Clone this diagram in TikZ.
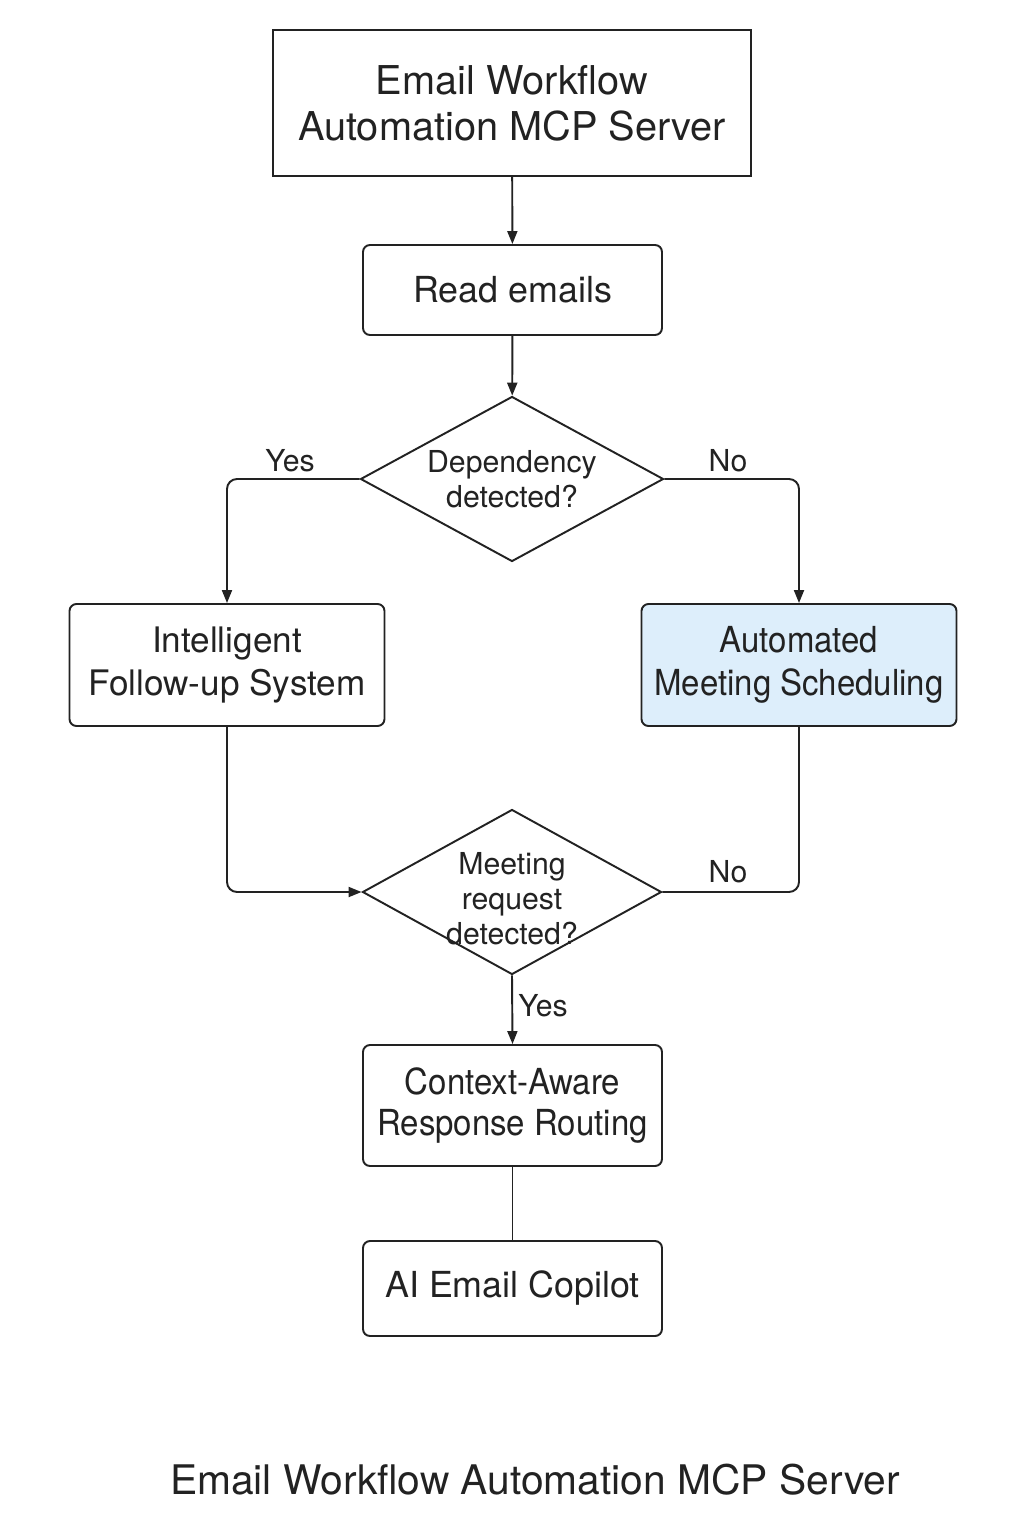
\documentclass[tikz,border=0pt]{standalone}
\usepackage{fontspec}
\setmainfont{TeX Gyre Heros}
\newfontfamily\narrowfont[FakeStretch=0.92]{TeX Gyre Heros}
\usetikzlibrary{shapes.geometric,arrows.meta}
\definecolor{schedblue}{HTML}{DDEEFB}
\definecolor{inkgray}{HTML}{222222}

\begin{document}
\begin{tikzpicture}
	\tikzset{box/.style = {shape=rectangle,draw=inkgray,line width=0.55pt,rounded corners=0.7mm,align=center,inner sep=0pt,text=inkgray}}
	\tikzset{decision/.style = {shape=diamond,draw=inkgray,line width=0.55pt,inner sep=0pt}}
	\tikzset{edge/.style = {draw=inkgray,line width=0.55pt,rounded corners=1mm,-{Triangle[length=1.3mm,width=1mm]}}}
	\tikzset{tag/.style = {font=\fontsize{8.6}{10}\selectfont,text=inkgray}}

	\fill[white] (0,0) rectangle (10.24,-15.36);
	\useasboundingbox (0,0) rectangle (10.24,-15.36);

	\node[box,sharp corners,minimum width=4.78cm,minimum height=1.46cm,font=\fontsize{11.3}{13}\selectfont] (server) at (5.12,-1.03) {Email Workflow\\Automation MCP Server};
	\node[box,minimum width=2.99cm,minimum height=0.90cm,font=\fontsize{10.2}{12}\selectfont] (read) at (5.125,-2.90) {Read emails};

	\node[decision,minimum width=3.03cm,minimum height=1.65cm,label={[tag,align=center]center:Dependency\\detected?}] (dep) at (5.12,-4.79) {};

	\node[box,minimum width=3.15cm,minimum height=1.22cm,font=\fontsize{10}{12.2}\selectfont] (follow) at (2.27,-6.65) {Intelligent\\Follow-up System};
	\node[box,fill=schedblue,minimum width=3.15cm,minimum height=1.22cm,font=\narrowfont\fontsize{10.2}{12.2}\selectfont] (sched) at (7.99,-6.65) {Automated\\Meeting Scheduling};

	\node[decision,minimum width=2.99cm,minimum height=1.65cm,label={[tag,align=center,yshift=-0.07cm]center:Meeting\\request\\detected?}] (meet) at (5.12,-8.92) {};

	\node[box,minimum width=2.99cm,minimum height=1.21cm,font=\narrowfont\fontsize{10.2}{11.4}\selectfont] (context) at (5.125,-11.055) {Context-Aware\\Response Routing};
	\node[box,minimum width=2.99cm,minimum height=0.95cm,font=\fontsize{10.2}{12}\selectfont] (copilot) at (5.125,-12.885) {AI Email Copilot};

	% branch labels
	\node[tag] (yes1) at (2.90,-4.61) {Yes};
	\node[tag] (no1) at (7.28,-4.61) {No};
	\node[tag] (no2) at (7.28,-8.72) {No};
	\node[tag] (yes2) at (5.43,-10.06) {Yes};

	\node[font=\fontsize{11.6}{13}\selectfont,text=inkgray] (caption) at (5.35,-14.80) {Email Workflow Automation MCP Server};

	\draw[edge] (server) -- (read);
	\draw[edge] (read) -- (dep);
	\draw[edge] (dep.west) -| (follow.north);
	\draw[edge] (dep.east) -| (sched.north);
	\draw[edge] (follow.south) |- (meet.west);
	\draw[edge,-] (sched.south) |- (meet.east);
	\draw[edge] (meet.south) -- (context.north);
	\draw[edge,-] (context) -- (copilot);
\end{tikzpicture}
\end{document}
